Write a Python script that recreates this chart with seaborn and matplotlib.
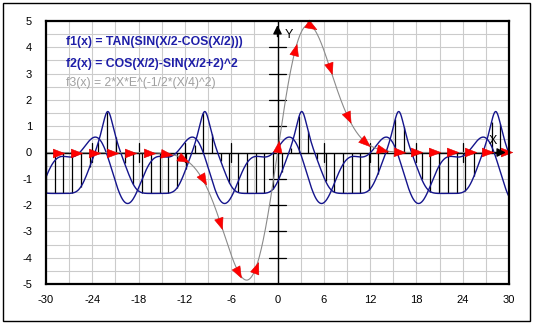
import numpy as np
import pandas as pd
import matplotlib
matplotlib.use("Agg")
import matplotlib.pyplot as plt
import seaborn as sns
from matplotlib.path import Path
from matplotlib.markers import MarkerStyle
from matplotlib.transforms import Affine2D
from matplotlib.patches import Rectangle

# ---------------- data ----------------
X_MIN, X_MAX = -30, 30
Y_MIN, Y_MAX = -5, 5
N_SAMPLES = 1201          # curve resolution
N_DROP = 54               # drop-line samples of f1 across the range
legend_labels = [
    "f1(x) = TAN(SIN(X/2-COS(X/2)))",
    "f2(x) = COS(X/2)-SIN(X/2+2)^2",
    "f3(x) = 2*X*E^(-1/2*(X/4)^2)",
]
x_tick_values = [-30, -27, -24, -21, -18, -15, -12, -9, -6, -3, 0, 3, 6, 9, 12, 15, 18, 21, 24, 27, 30]
x_tick_labels = ["-30", "", "-24", "", "-18", "", "-12", "", "-6", "", "0", "", "6", "", "12", "", "18", "", "24", "", "30"]
y_tick_values = [-5, -4, -3, -2, -1, 0, 1, 2, 3, 4, 5]
y_tick_labels = ["-5", "-4", "-3", "-2", "-1", "0", "1", "2", "3", "4", "5"]
# x positions of the direction arrows drawn on f3
marker_x = [-28.5, -26.1, -23.8, -21.4, -19.1, -16.7, -14.4, -12.2, -9.7, -7.4, -5.1,
            -2.8, 0.1, 2.3, 4.3, 6.8, 9.1, 11.3, 13.5, 15.7, 18.0, 20.3, 22.6, 24.9, 27.2, 29.6]


def f1(x):
    return np.tan(np.sin(x / 2 - np.cos(x / 2)))


def f2(x):
    return np.cos(x / 2) - np.sin(x / 2 + 2) ** 2


def f3(x):
    return 2 * x * np.exp(-0.5 * (x / 4) ** 2)


xs = np.linspace(X_MIN, X_MAX, N_SAMPLES)
df = pd.DataFrame({"x": xs, "f1": f1(xs), "f2": f2(xs), "f3": f3(xs)})
x_drop = np.linspace(X_MIN, X_MAX, N_DROP)

# ---------------- style ----------------
sns.set_theme(style="white")
plt.rcParams["font.family"] = ["Liberation Sans", "DejaVu Sans"]

W, H = 533, 324
fig = plt.figure(figsize=(W / 100, H / 100), dpi=100)
fig.patch.set_facecolor("white")
L, R, T, B = 46, 509, 21, 284
ax = fig.add_axes([L / W, 1 - B / H, (R - L) / W, (B - T) / H])
ax.set_xlim(X_MIN, X_MAX)
ax.set_ylim(Y_MIN, Y_MAX)

NAVY = "#14148c"
GRID = "#cbcbcb"

ax.set_xticks(x_tick_values)
ax.set_xticklabels(x_tick_labels)
ax.set_yticks(y_tick_values)
ax.set_yticklabels(y_tick_labels)
ax.set_yticks(np.arange(-4.5, 5, 1.0), minor=True)
ax.tick_params(axis="both", which="both", direction="out", length=4, width=0.8,
               color="#555555", labelsize=8, pad=3, labelcolor="black")
ax.tick_params(axis="x", pad=4)
ax.tick_params(axis="y", pad=6)
ax.xaxis.grid(True, which="major", color=GRID, lw=0.8)
ax.yaxis.grid(True, which="both", color=GRID, lw=0.8)
ax.set_axisbelow(True)
for s in ax.spines.values():
    s.set_color("black")
    s.set_linewidth(1.6)
    s.set_zorder(10)

# drop lines of f1
ax.vlines(x_drop, 0, f1(x_drop), color="black", lw=0.9, zorder=2)

# axes through origin with their ticks
ax.axhline(0, color="black", lw=1.0, zorder=2)
ax.axvline(0, color="black", lw=1.0, zorder=2)
for yv in y_tick_values:
    if yv not in (0, Y_MIN, Y_MAX):
        ax.plot([-1.15, 1.15], [yv, yv], color="black", lw=0.9, zorder=2)
for xv in x_tick_values:
    if xv % 6 == 0 and xv not in (0, X_MIN, X_MAX):
        ax.plot([xv, xv], [-0.38, 0.38], color="black", lw=0.9, zorder=2)

# curves
sns.lineplot(data=df, x="x", y="f1", color=NAVY, lw=1.0, ax=ax, sort=False, estimator=None, zorder=3)
sns.lineplot(data=df, x="x", y="f2", color=NAVY, lw=1.0, ax=ax, sort=False, estimator=None, zorder=3)
sns.lineplot(data=df, x="x", y="f3", color="#8a8a8a", lw=0.8, ax=ax, sort=False, estimator=None, zorder=4)
ax.set_xlabel("")
ax.set_ylabel("")

# axis arrows
ax.annotate("", xy=(0, Y_MAX - 0.05), xytext=(0, Y_MAX - 0.7),
            arrowprops=dict(arrowstyle="-|>", color="black", lw=1, mutation_scale=13), zorder=6)
ax.annotate("", xy=(X_MAX - 0.05, 0), xytext=(X_MAX - 2.2, 0),
            arrowprops=dict(arrowstyle="-|>", color="black", lw=1, mutation_scale=13), zorder=6)
ax.text(0.9, 4.45, "Y", fontsize=9, color="black", va="center", ha="left", zorder=6)
ax.text(27.9, 0.45, "X", fontsize=9, color="black", va="center", ha="center", zorder=6)

# direction arrows on f3
fig.canvas.draw()
tri = Path([(0.6, 0.0), (-0.5, 0.42), (-0.5, -0.42), (0.6, 0.0)],
           [Path.MOVETO, Path.LINETO, Path.LINETO, Path.CLOSEPOLY])
for mx in marker_x:
    p0 = ax.transData.transform((mx - 0.05, f3(mx - 0.05)))
    p1 = ax.transData.transform((mx + 0.05, f3(mx + 0.05)))
    ang = np.degrees(np.arctan2(p1[1] - p0[1], p1[0] - p0[0]))
    ms = MarkerStyle(tri, transform=Affine2D().rotate_deg(ang))
    ax.plot([mx], [f3(mx)], linestyle="none", marker=ms, markersize=9,
            color="#ff0000", markeredgecolor="#e00000", markeredgewidth=0.4, zorder=5, clip_on=False)

# legend texts
ys_txt = [42.5, 63.5, 83.5]
cols = ["#1e1ea8", "#1e1ea8", "#a0a0a0"]
weights = ["bold", "bold", "normal"]
for lab, yy, c, w in zip(legend_labels, ys_txt, cols, weights):
    fig.text(66 / W, 1 - yy / H, lab, color=c, fontsize=8.8, fontweight=w, va="center", ha="left", zorder=8)

# outer frame of the picture
fig.patches.append(Rectangle((3 / W, 3 / H), (530 - 3) / W, (321 - 3) / H, transform=fig.transFigure,
                             fill=False, edgecolor="black", lw=1.0))

fig.savefig("out.png", dpi=100)
